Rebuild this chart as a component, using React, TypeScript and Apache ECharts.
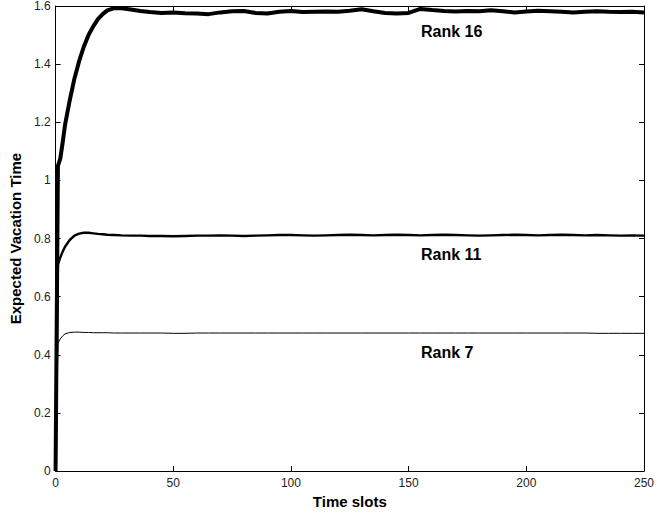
import React, { useEffect, useRef } from "react";
import * as echarts from "echarts";

const timeSlots = [0, 1, 2, 3, 4, 6, 8, 10, 12, 14, 16, 18, 20, 22, 25, 28, 32, 36, 40, 45, 50, 55, 60, 65, 70, 75, 80, 85, 90, 95, 100, 105, 110, 115, 120, 125, 130, 135, 140, 145, 150, 155, 160, 165, 170, 175, 180, 185, 190, 195, 200, 205, 210, 215, 220, 225, 230, 235, 240, 245, 250];

const rank16 = [0, 1.05, 1.075, 1.13, 1.19, 1.275, 1.35, 1.41, 1.46, 1.5, 1.53, 1.555, 1.572, 1.585, 1.593, 1.592, 1.588, 1.583, 1.579, 1.576, 1.578, 1.575, 1.574, 1.572, 1.578, 1.582, 1.583, 1.576, 1.574, 1.58, 1.583, 1.579, 1.58, 1.581, 1.58, 1.584, 1.589, 1.582, 1.576, 1.574, 1.576, 1.59, 1.586, 1.583, 1.581, 1.583, 1.582, 1.585, 1.582, 1.578, 1.581, 1.584, 1.582, 1.58, 1.578, 1.58, 1.582, 1.58, 1.579, 1.58, 1.578];

const rank11 = [0, 0.71, 0.735, 0.755, 0.772, 0.795, 0.81, 0.817, 0.82, 0.82, 0.818, 0.816, 0.815, 0.813, 0.812, 0.811, 0.81, 0.81, 0.809, 0.809, 0.808, 0.809, 0.81, 0.81, 0.811, 0.81, 0.809, 0.81, 0.811, 0.812, 0.812, 0.811, 0.81, 0.811, 0.812, 0.813, 0.812, 0.811, 0.812, 0.813, 0.812, 0.811, 0.812, 0.813, 0.812, 0.811, 0.81, 0.811, 0.812, 0.813, 0.812, 0.811, 0.812, 0.813, 0.812, 0.811, 0.812, 0.811, 0.81, 0.811, 0.81];

const rank7 = [0, 0.44, 0.455, 0.465, 0.472, 0.477, 0.478, 0.478, 0.477, 0.477, 0.476, 0.476, 0.476, 0.476, 0.475, 0.475, 0.475, 0.475, 0.475, 0.475, 0.474, 0.474, 0.475, 0.475, 0.475, 0.475, 0.475, 0.475, 0.475, 0.475, 0.475, 0.475, 0.475, 0.475, 0.475, 0.475, 0.475, 0.475, 0.475, 0.475, 0.475, 0.475, 0.475, 0.475, 0.475, 0.475, 0.475, 0.475, 0.475, 0.475, 0.475, 0.475, 0.475, 0.475, 0.475, 0.475, 0.474, 0.474, 0.474, 0.474, 0.474];

const seriesNames = ["Rank 16", "Rank 11", "Rank 7"];
const seriesValues = [rank16, rank11, rank7];
const lineWidths = [4, 2.4, 1];
const labelY = [32, 255, 353];

const xTitle = "Time slots";
const yTitle = "Expected Vacation Time";

const FONT = "'Liberation Sans', Arial, Helvetica, sans-serif";

export default function App() {
  const ref = useRef<HTMLDivElement>(null);
  useEffect(() => {
    if (!ref.current) return;
    const chart = echarts.init(ref.current, null, { renderer: "svg" });
    const tickLabel = { color: "#222", fontSize: 12, fontFamily: FONT };
    const axisLine = { show: true, onZero: false, lineStyle: { color: "#000", width: 1 } };
    const tick = { show: true, inside: true, length: 5, lineStyle: { color: "#000", width: 1 } };
    chart.setOption({
      animation: false,
      backgroundColor: "#fff",
      grid: { left: 52, right: 10, top: 5, bottom: 41, containLabel: false },
      xAxis: [
        {
          type: "value",
          position: "bottom",
          min: 0,
          max: 250,
          interval: 50,
          axisLine,
          axisTick: tick,
          axisLabel: { ...tickLabel, margin: 6 },
          splitLine: { show: false },
          name: xTitle,
          nameLocation: "middle",
          nameGap: 20,
          nameTextStyle: { fontSize: 15, fontWeight: "bold", color: "#000", fontFamily: FONT },
        },
        {
          type: "value",
          position: "top",
          min: 0,
          max: 250,
          interval: 50,
          axisLine,
          axisTick: tick,
          axisLabel: { show: false },
          splitLine: { show: false },
        },
      ],
      yAxis: [
        {
          type: "value",
          position: "left",
          min: 0,
          max: 1.6,
          interval: 0.2,
          axisLine,
          axisTick: tick,
          axisLabel: { ...tickLabel, margin: 5 },
          splitLine: { show: false },
          name: yTitle,
          nameLocation: "middle",
          nameGap: 27,
          nameTextStyle: { fontSize: 15, fontWeight: "bold", color: "#000", fontFamily: FONT },
        },
        {
          type: "value",
          position: "right",
          min: 0,
          max: 1.6,
          interval: 0.2,
          axisLine,
          axisTick: tick,
          axisLabel: { show: false },
          splitLine: { show: false },
        },
      ],
      graphic: seriesNames.map((n, i) => ({
        type: "text",
        left: 421,
        top: labelY[i] - 9,
        style: { text: n, fill: "#000", font: `bold 16px ${FONT}` },
      })),
      series: seriesValues.map((vals, i) => ({
        type: "line",
        name: seriesNames[i],
        xAxisIndex: 0,
        yAxisIndex: 0,
        data: timeSlots.map((t, j) => [t, vals[j]]),
        showSymbol: false,
        symbol: "none",
        lineStyle: { color: "#000", width: lineWidths[i] },
        clip: true,
      })),
    });
    return () => chart.dispose();
  }, []);
  return <div ref={ref} style={{ position: "fixed", left: 0, top: 0, width: 657, height: 514 }} />;
}
